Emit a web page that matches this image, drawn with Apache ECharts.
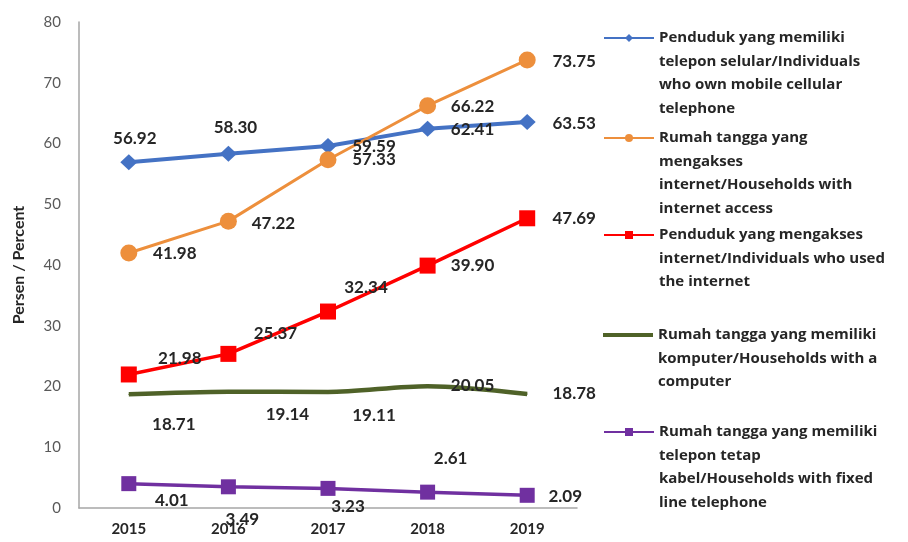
<!DOCTYPE html>
<html><head><meta charset="utf-8">
<script src="https://cdn.jsdelivr.net/npm/echarts@6/dist/echarts.min.js"></script>
<style>html,body{margin:0;padding:0;background:#fff}#c{width:908px;height:542px}</style>
</head><body><div id="c"></div>
<script>
// ---- data ----
const years = ['2015', '2016', '2017', '2018', '2019'];
const mobilePhone = [56.92, 58.30, 59.59, 62.41, 63.53];
const hhInternet = [41.98, 47.22, 57.33, 66.22, 73.75];
const indInternet = [21.98, 25.37, 32.34, 39.90, 47.69];
const hhComputer = [18.71, 19.14, 19.11, 20.05, 18.78];
const hhFixedPhone = [4.01, 3.49, 3.23, 2.61, 2.09];
const seriesNames = [
  'Penduduk yang memiliki\ntelepon selular/Individuals\nwho own mobile cellular\ntelephone',
  'Rumah tangga yang\nmengakses\ninternet/Households with\ninternet access',
  'Penduduk yang mengakses\ninternet/Individuals who used\nthe internet',
  'Rumah tangga yang memiliki\nkomputer/Households with a\ncomputer',
  'Rumah tangga yang memiliki\ntelepon tetap\nkabel/Households with fixed\nline telephone'
];
const yTicks = {min: 0, max: 80, interval: 10};

// ---- label placement (pixel offsets from each point) ----
const offMobile = [[6, -24], [7, -26], [46, 1], [45, 1], [47, 1]];
const offHhInt = [[46, 1], [45, 2], [46, 0], [45, 1], [47, 2]];
const offIndInt = [[51, -16], [47, -20], [38, -24], [45, 0], [47, 0]];
const offComp = [[45, 30], [59, 23], [46, 24], [45, -1], [47, 0]];
const offFixed = [[43, 17], [14, 33], [20, 18], [23, -34], [38, 1]];

const colors = ['#4472C4', '#ED8F3C', '#FF0000', '#4F6228', '#7030A0'];
const font = 'Lato';
const legendFont = 'Open Sans';

function withLabels(vals, offs) {
  return vals.map((v, i) => ({
    value: v,
    label: {offset: offs[i]}
  }));
}
function mkSeries(idx, vals, offs, symbol, size, width, extra) {
  return Object.assign({
    name: seriesNames[idx],
    type: 'line',
    data: withLabels(vals, offs),
    symbol: symbol,
    symbolSize: size,
    color: colors[idx],
    lineStyle: {width: width, color: colors[idx]},
    itemStyle: {color: colors[idx]},
    label: {
      show: true, position: 'inside',
      formatter: p => p.value.toFixed(2),
      fontFamily: font, fontWeight: 'bold', fontSize: 17, color: '#262626'
    },
    emphasis: {disabled: true},
    z: 3
  }, extra || {});
}

const lh = 23.5;
const iconY = [38, 138, 235, 335, 432];
function mkLegend(idx) {
  const n = seriesNames[idx].split('\n').length;
  const boxH = (2 * n - 1) * lh;
  const blanks = new Array(n - 1).fill(' ').join('\n');
  const plainLine = idx === 3;
  return {
    data: [plainLine ? {name: seriesNames[idx], icon: 'rect'} : seriesNames[idx]],
    left: 603,
    top: iconY[idx] - boxH / 2,
    padding: 0,
    itemWidth: 50,
    itemHeight: plainLine ? 4 : 10,
    itemGap: 0,
    selectedMode: false,
    formatter: name => blanks + '\n' + name,
    textStyle: {
      fontFamily: legendFont, fontWeight: 'bold', fontSize: 15, color: '#262626',
      lineHeight: lh
    }
  };
}

const chart = echarts.init(document.getElementById('c'));
chart.setOption({
  animation: false,
  backgroundColor: '#fff',
  grid: {left: 79, right: 331, top: 22, bottom: 34},
  legend: [0, 1, 2, 3, 4].map(mkLegend),
  xAxis: {
    type: 'category',
    data: years,
    boundaryGap: true,
    axisLine: {lineStyle: {color: '#A6A6A6', width: 1.5}},
    axisTick: {show: false},
    axisLabel: {fontFamily: font, fontWeight: 'bold', fontSize: 15, color: '#262626', margin: 14}
  },
  yAxis: {
    type: 'value',
    min: yTicks.min, max: yTicks.max, interval: yTicks.interval,
    name: 'Persen / Percent',
    nameLocation: 'middle',
    nameGap: 52,
    nameRotate: 90,
    nameTextStyle: {fontFamily: font, fontWeight: 'bold', fontSize: 16, color: '#262626'},
    axisLine: {show: true, lineStyle: {color: '#A6A6A6', width: 1.5}},
    axisTick: {show: false},
    splitLine: {show: false},
    axisLabel: {fontFamily: font, fontSize: 15, color: '#595959', margin: 18}
  },
  series: [
    mkSeries(0, mobilePhone, offMobile, 'diamond', [17, 16], 4),
    mkSeries(1, hhInternet, offHhInt, 'circle', 17, 3),
    mkSeries(2, indInternet, offIndInt, 'rect', 16, 3.5),
    mkSeries(3, hhComputer, offComp, 'circle', 1, 4.5, {smooth: 0.3}),
    mkSeries(4, hhFixedPhone, offFixed, 'rect', 15, 3.5)
  ]
});
</script>
</body></html>
